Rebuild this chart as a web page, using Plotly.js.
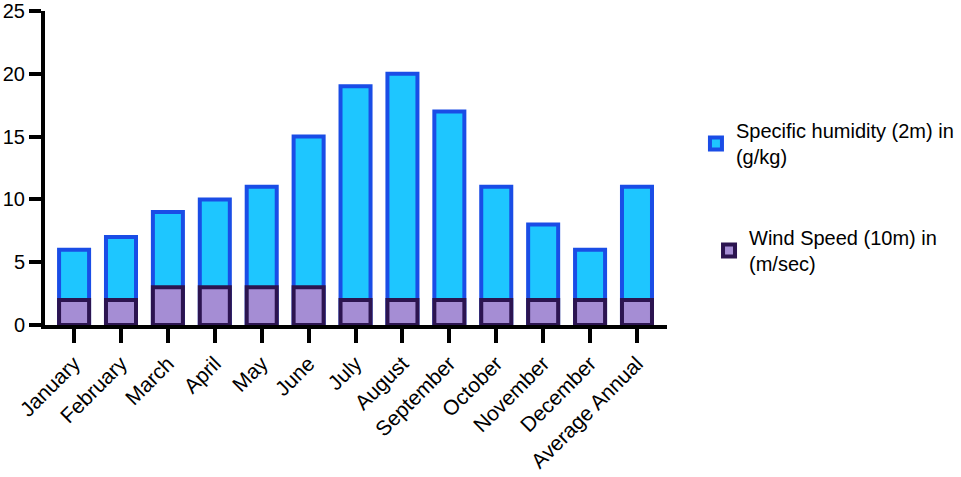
<!DOCTYPE html>
<html>
<head>
<meta charset="utf-8">
<script src="https://cdn.plot.ly/plotly-3.0.1.min.js"></script>
<style>html,body{margin:0;padding:0;background:#fff;}#chart{width:961px;height:477px;}</style>
</head>
<body>
<div id="chart"></div>
<script>
const categories = ["January","February","March","April","May","June","July","August","September","October","November","December","Average Annual"];
const humidity = [6, 7, 9, 10, 11, 15, 19, 20, 17, 11, 8, 6, 11];
const windSpeed = [2, 2, 3, 3, 3, 3, 2, 2, 2, 2, 2, 2, 2];
const yTicks = [0, 5, 10, 15, 20, 25];
const humidityName = "Specific humidity (2m) in<br>(g/kg)";
const windName = "Wind Speed (10m) in<br>(m/sec)";

const font = {family: "Liberation Sans, Arial, sans-serif", size: 20, color: "#000"};

const traces = [
  {type: "bar", x: categories, y: humidity, name: humidityName, width: 0.64,
   marker: {color: "#1EC6FF", line: {color: "#1A4DE6", width: 4}}, legend: "legend"},
  {type: "bar", x: categories, y: windSpeed, name: windName, width: 0.64,
   marker: {color: "#A58DD4", line: {color: "#2C1450", width: 4}}, legend: "legend2"}
];

const layout = {
  width: 961, height: 477,
  margin: {l: 45, r: 294, t: 11, b: 152, autoexpand: false},
  barmode: "overlay",
  paper_bgcolor: "#fff", plot_bgcolor: "#fff",
  font: font,
  showlegend: true,
  xaxis: {
    type: "category", range: [-0.62, 12.64],
    showline: true, linewidth: 4, linecolor: "#000",
    ticks: "outside", ticklen: 14, tickwidth: 4, tickcolor: "#000",
    tickangle: -45, tickfont: {family: font.family, size: 21, color: "#000"},
    showgrid: false, zeroline: false,
    ticklabeloverflow: "allow", automargin: false
  },
  yaxis: {
    range: [0, 25], tickvals: yTicks,
    showline: true, linewidth: 4, linecolor: "#000",
    ticks: "outside", ticklen: 12, tickwidth: 4, tickcolor: "#000",
    tickfont: font, showgrid: false, zeroline: false,
    ticklabeloverflow: "allow", automargin: false
  },
  legend: {xref: "container", yref: "container", x: 0.7242, y: 0.7673, xanchor: "left", yanchor: "top", font: font, bgcolor: "rgba(0,0,0,0)"},
  legend2: {xref: "container", yref: "container", x: 0.7378, y: 0.543, xanchor: "left", yanchor: "top", font: font, bgcolor: "rgba(0,0,0,0)"}
};

Plotly.newPlot("chart", traces, layout, {displayModeBar: false, staticPlot: true});
</script>
</body>
</html>
